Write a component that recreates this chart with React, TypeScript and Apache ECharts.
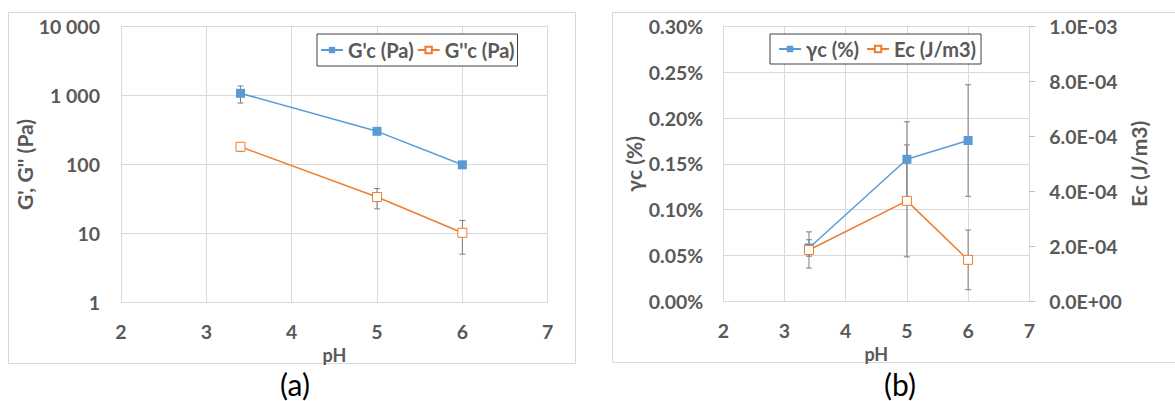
import React, { useEffect, useRef } from "react";
import * as echarts from "echarts";

// ---- data ----
const phValues = [3.4, 5, 6];
const gPrime = [1080, 303, 99]; // G'c (Pa)
const gPrimeErr = [300, 0, 0];
const gDouble = [181, 33.7, 10.2]; // G''c (Pa)
const gDoubleErr = [27, 11, 5.2];
const gammaC = [0.058, 0.155, 0.1755]; // γc (%)
const gammaErr = [0.009, 0.041, 0.061];
const ecVals = [1.86e-4, 3.65e-4, 1.5e-4]; // Ec (J/m3)
const ecErr = [0.66e-4, 2.04e-4, 1.09e-4];

const logTicks = [1, 10, 100, 1000, 10000];
const legendA = ["G'c (Pa)", "G''c (Pa)"];
const legendB = ["γc (%)", "Ec (J/m3)"];

const FONT = "Lato";
const TXT = "#595959";
const GRID = "#d9d9d9";
const BLUE = "#5b9bd5";
const ORANGE = "#ed7d31";
const ERRC = "#7f7f7f";

const pts = (ys: number[]) => phValues.map((x, i) => [x, ys[i]]);
const errPts = (ys: number[], es: number[]) =>
  phValues
    .map((x, i) => [x, ys[i] - es[i], ys[i] + es[i]])
    .filter((_, i) => es[i] > 0);

const errRender = (params: any, api: any) => {
  const x = api.value(0);
  const lo = api.value(1);
  const hi = api.value(2);
  const a = api.coord([x, hi]);
  const b = api.coord([x, lo]);
  const w = 3;
  const style = { stroke: ERRC, lineWidth: 1, fill: null };
  return {
    type: "group",
    children: [
      { type: "line", shape: { x1: a[0], y1: a[1], x2: b[0], y2: b[1] }, style },
      { type: "line", shape: { x1: a[0] - w, y1: a[1], x2: a[0] + w, y2: a[1] }, style },
      { type: "line", shape: { x1: b[0] - w, y1: b[1], x2: b[0] + w, y2: b[1] }, style },
    ],
  };
};

const thousands = (v: number) =>
  String(Math.round(v)).replace(/\B(?=(\d{3})+(?!\d))/g, " ");
const expFmt = (v: number) => {
  const s = v.toExponential(1);
  const [m, e] = s.split("e");
  const sign = e[0] === "-" ? "-" : "+";
  const d = e.replace(/[+-]/, "").padStart(2, "0");
  return `${m}E${sign}${d}`;
};

const labelStyle = { color: TXT, fontFamily: FONT, fontWeight: "bold" as const, fontSize: 19.5 };
const nameStyleX = { color: TXT, fontFamily: FONT, fontWeight: "bold" as const, fontSize: 18 };
const nameStyleY = { color: TXT, fontFamily: FONT, fontWeight: "bold" as const, fontSize: 21 };

const xAxisBase = {
  type: "value" as const,
  min: 2,
  max: 7,
  interval: 1,
  name: "pH",
  nameLocation: "middle" as const,
  nameGap: 40,
  nameTextStyle: nameStyleX,
  axisLine: { show: true, lineStyle: { color: GRID } },
  axisTick: { show: false },
  axisLabel: { ...labelStyle, margin: 19 },
  splitLine: { show: true, lineStyle: { color: GRID } },
};

const legendBase = {
  orient: "horizontal" as const,
  borderColor: "#404040",
  borderWidth: 1,
  backgroundColor: "#fff",
  itemWidth: 22,
  itemHeight: 8,
  textStyle: { ...labelStyle, fontSize: 20 },
};

export default function App() {
  const ref = useRef<HTMLDivElement>(null);
  useEffect(() => {
    if (!ref.current) return;
    const chart = echarts.init(ref.current, undefined, { renderer: "svg" });
    const option: any = {
      animation: false,
      backgroundColor: "#ffffff",
      textStyle: { fontFamily: FONT },
      graphic: [
        { type: "rect", shape: { x: 8.5, y: 12.5, width: 567, height: 351 }, style: { fill: "none", stroke: GRID, lineWidth: 1 }, z: 0 },
        { type: "rect", shape: { x: 612.5, y: 12.5, width: 575, height: 350 }, style: { fill: "none", stroke: GRID, lineWidth: 1 }, z: 0 },
        { type: "text", x: 295, y: 384, style: { text: "(a)", fontFamily: FONT, fontSize: 30, fill: "#000", align: "center", verticalAlign: "middle" } },
        { type: "text", x: 900, y: 384, style: { text: "(b)", fontFamily: FONT, fontSize: 30, fill: "#000", align: "center", verticalAlign: "middle" } },
      ],
      legend: [
        { ...legendBase, data: legendA, left: 317, top: 34, padding: [6, 3, 6, 3], itemGap: 3 },
        { ...legendBase, data: legendB, left: 770, top: 34, padding: [5, 5, 5, 8], itemGap: 7 },
      ],
      grid: [
        { left: 121, top: 26.7, width: 426.7, height: 275.6 },
        { left: 723.3, top: 26.7, width: 306, height: 274.3 },
      ],
      xAxis: [
        { ...xAxisBase, gridIndex: 0 },
        { ...xAxisBase, gridIndex: 1 },
      ],
      yAxis: [
        {
          gridIndex: 0,
          type: "log",
          logBase: 10,
          min: logTicks[0],
          max: logTicks[logTicks.length - 1],
          name: "G', G'' (Pa)",
          nameLocation: "middle",
          nameRotate: 90,
          nameGap: 86,
          nameTextStyle: nameStyleY,
          axisLine: { show: true, lineStyle: { color: GRID } },
          axisTick: { show: false },
          axisLabel: { ...labelStyle, margin: 21, formatter: (v: number) => thousands(v) },
          splitLine: { show: true, lineStyle: { color: GRID } },
        },
        {
          gridIndex: 1,
          type: "value",
          min: 0,
          max: 0.3,
          interval: 0.05,
          name: "γc (%)",
          nameLocation: "middle",
          nameRotate: 90,
          nameGap: 79,
          nameTextStyle: nameStyleY,
          axisLine: { show: true, lineStyle: { color: GRID } },
          axisTick: { show: false },
          axisLabel: { ...labelStyle, margin: 20, formatter: (v: number) => `${v.toFixed(2)}%` },
          splitLine: { show: true, lineStyle: { color: GRID } },
        },
        {
          gridIndex: 1,
          type: "value",
          position: "right",
          min: 0,
          max: 0.001,
          interval: 0.0002,
          name: "Ec (J/m3)",
          nameLocation: "middle",
          nameRotate: 90,
          nameGap: 99,
          nameTextStyle: nameStyleY,
          axisLine: { show: true, lineStyle: { color: GRID } },
          axisTick: { show: true, length: 6, lineStyle: { color: "#bfbfbf" } },
          axisLabel: { ...labelStyle, margin: 20, formatter: (v: number) => expFmt(v) },
          splitLine: { show: false },
        },
      ],
      series: [
        {
          type: "custom",
          name: "errA1",
          xAxisIndex: 0,
          yAxisIndex: 0,
          renderItem: errRender,
          data: errPts(gPrime, gPrimeErr),
          encode: { x: 0, y: [1, 2] },
          z: 1,
          silent: true,
        },
        {
          type: "custom",
          name: "errA2",
          xAxisIndex: 0,
          yAxisIndex: 0,
          renderItem: errRender,
          data: errPts(gDouble, gDoubleErr),
          encode: { x: 0, y: [1, 2] },
          z: 1,
          silent: true,
        },
        {
          type: "line",
          name: legendA[0],
          xAxisIndex: 0,
          yAxisIndex: 0,
          data: pts(gPrime),
          symbol: "rect",
          symbolSize: 9,
          lineStyle: { color: BLUE, width: 1.5 },
          itemStyle: { color: BLUE },
          z: 3,
        },
        {
          type: "line",
          name: legendA[1],
          xAxisIndex: 0,
          yAxisIndex: 0,
          data: pts(gDouble),
          symbol: "rect",
          symbolSize: 9,
          lineStyle: { color: ORANGE, width: 1.5 },
          itemStyle: { color: "#fff", borderColor: ORANGE, borderWidth: 1 },
          z: 3,
        },
        {
          type: "custom",
          name: "errB1",
          xAxisIndex: 1,
          yAxisIndex: 1,
          renderItem: errRender,
          data: errPts(gammaC, gammaErr),
          encode: { x: 0, y: [1, 2] },
          z: 1,
          silent: true,
        },
        {
          type: "custom",
          name: "errB2",
          xAxisIndex: 1,
          yAxisIndex: 2,
          renderItem: errRender,
          data: errPts(ecVals, ecErr),
          encode: { x: 0, y: [1, 2] },
          z: 1,
          silent: true,
        },
        {
          type: "line",
          name: legendB[0],
          xAxisIndex: 1,
          yAxisIndex: 1,
          data: pts(gammaC),
          symbol: "rect",
          symbolSize: 9,
          lineStyle: { color: BLUE, width: 1.5 },
          itemStyle: { color: BLUE },
          z: 3,
        },
        {
          type: "line",
          name: legendB[1],
          xAxisIndex: 1,
          yAxisIndex: 2,
          data: pts(ecVals),
          symbol: "rect",
          symbolSize: 9,
          lineStyle: { color: ORANGE, width: 1.5 },
          itemStyle: { color: "#fff", borderColor: ORANGE, borderWidth: 1 },
          z: 3,
        },
      ],
    };
    chart.setOption(option);
    return () => chart.dispose();
  }, []);
  return (
    <div
      ref={ref}
      style={{ position: "absolute", left: 0, top: 0, width: 1175, height: 401, background: "#fff" }}
    />
  );
}
